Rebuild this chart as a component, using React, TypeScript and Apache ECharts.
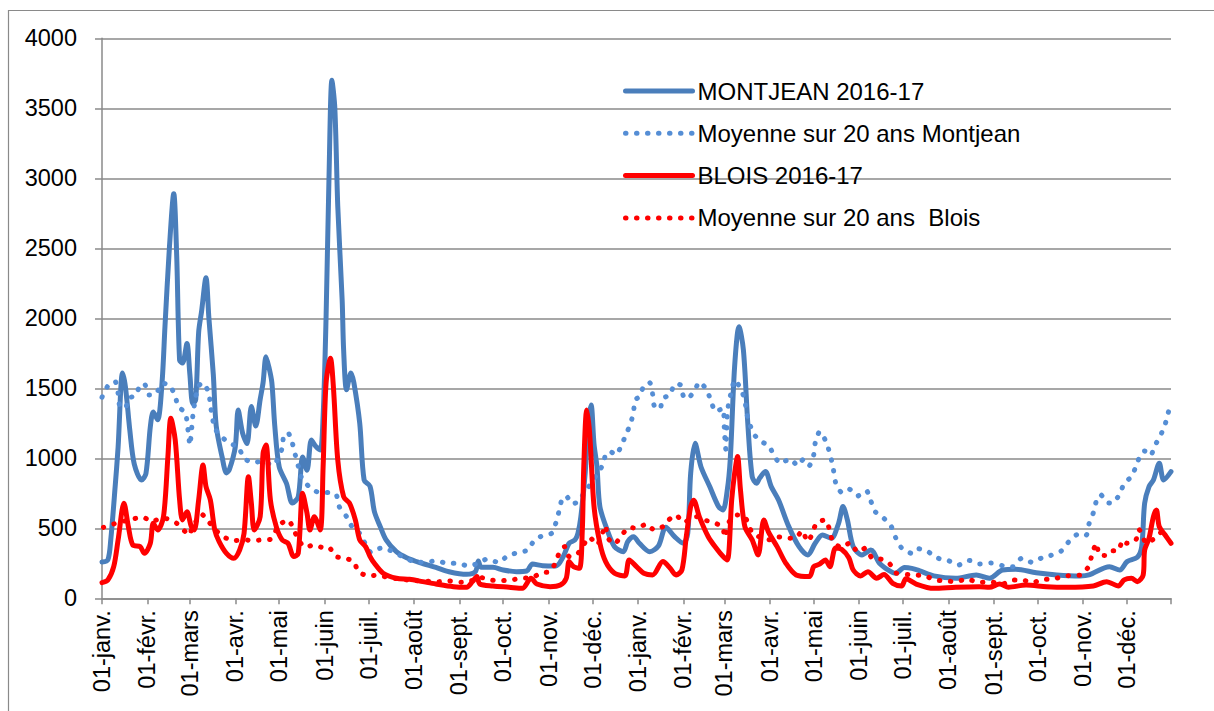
import React, { useEffect, useRef } from "react";
import * as echarts from "echarts";

// Débits journaliers (m3/s), [jour depuis le 01-janv.-2016, valeur]
const montjean: [number, number][] = [
  [0,260],[4,275],[6,420],[9,800],[11,1080],[14,1610],[16,1510],[19,1200],[22,960],[27,845],[30,890],[33,1225],[35,1330],[38,1275],[41,1540],[43,1940],[46,2500],[49,2890],[51,2450],[53,1700],[55,1680],[58,1820],[60,1600],[62,1390],[64,1420],[66,1900],[68,2050],[71,2290],[73,2000],[76,1600],[78,1230],[82,1010],[85,895],[87,920],[91,1080],[93,1345],[96,1180],[99,1105],[102,1370],[105,1230],[108,1420],[110,1540],[112,1725],[114,1650],[116,1540],[118,1230],[121,940],[126,820],[130,680],[134,725],[137,1010],[140,915],[143,1130],[146,1085],[149,1060],[151,1300],[153,2000],[155,3000],[157,3700],[159,3500],[161,2800],[164,2130],[165,1775],[167,1490],[170,1610],[172,1540],[176,1250],[179,845],[183,800],[186,620],[190,512],[194,417],[201,333],[208,290],[217,255],[228,221],[237,190],[249,171],[255,190],[257,267],[259,221],[267,221],[274,202],[283,190],[290,195],[294,245],[301,233],[310,231],[315,298],[319,393],[323,417],[325,464],[327,583],[330,900],[332,1250],[334,1380],[336,1100],[338,940],[340,655],[345,488],[350,369],[356,333],[359,405],[363,440],[367,393],[374,333],[380,374],[385,507],[391,440],[397,393],[400,464],[402,893],[405,1107],[409,940],[415,798],[421,655],[424,631],[427,774],[429,988],[432,1655],[435,1940],[438,1774],[441,1250],[444,869],[447,821],[449,857],[453,905],[457,798],[462,702],[469,512],[476,369],[482,310],[487,393],[492,452],[498,429],[503,536],[506,655],[509,560],[513,369],[519,310],[525,345],[531,250],[537,202],[542,179],[548,220],[553,214],[558,198],[568,160],[583,143],[597,167],[606,143],[615,202],[624,207],[638,183],[652,167],[668,160],[674,167],[688,226],[695,202],[700,262],[707,293],[710,369],[712,679],[715,798],[718,845],[722,964],[725,845],[730,905]
];

const montjeanMoyenne: [number, number][] = [
  [0,1436],[4,1517],[9,1548],[11,1464],[12,1381],[16,1357],[18,1429],[23,1448],[26,1524],[29,1531],[32,1452],[37,1460],[41,1536],[46,1524],[50,1445],[52,1369],[57,1326],[58,1262],[59,1179],[60,1095],[62,1300],[64,1440],[66,1517],[69,1540],[73,1464],[74,1381],[77,1214],[82,1150],[88,1102],[93,1083],[97,1000],[103,969],[108,976],[117,952],[123,1071],[124,1155],[127,1183],[130,1107],[132,1024],[134,945],[136,869],[137,845],[144,774],[149,755],[155,755],[160,738],[162,655],[167,583],[172,488],[176,464],[184,326],[190,357],[196,345],[201,321],[207,286],[214,260],[220,257],[228,267],[236,250],[243,250],[250,231],[257,250],[263,281],[271,255],[277,305],[284,326],[291,345],[295,412],[301,448],[307,464],[310,540],[312,619],[314,702],[317,731],[321,674],[325,690],[342,952],[344,1031],[347,1048],[351,1024],[355,1100],[358,1174],[361,1250],[363,1333],[364,1417],[367,1440],[370,1517],[374,1540],[376,1460],[377,1379],[381,1352],[383,1429],[388,1452],[391,1531],[395,1524],[397,1445],[400,1426],[405,1493],[408,1545],[413,1488],[416,1405],[419,1333],[424,1357],[425,1200],[426,1064],[427,1310],[428,1398],[430,1483],[432,1560],[436,1500],[439,1417],[440,1333],[442,1255],[445,1174],[450,1119],[455,1095],[458,1040],[463,964],[470,995],[475,948],[479,993],[483,948],[486,1024],[487,1107],[490,1190],[493,1150],[496,1071],[499,950],[501,826],[505,757],[510,781],[516,731],[522,769],[525,695],[528,619],[534,571],[539,512],[542,433],[546,360],[553,321],[557,355],[564,333],[571,286],[578,269],[585,238],[592,271],[599,245],[607,252],[615,233],[622,226],[628,286],[635,257],[642,290],[648,307],[655,338],[660,402],[666,455],[672,450],[674,531],[677,612],[679,693],[682,740],[686,686],[690,679],[695,745],[698,821],[703,869],[706,940],[709,1021],[712,1052],[716,1019],[719,1090],[723,1167],[726,1243],[728,1321],[730,1405]
];

const blois: [number, number][] = [
  [0,112],[4,131],[8,226],[11,417],[15,679],[18,512],[21,381],[26,369],[29,321],[33,393],[35,536],[38,488],[42,583],[45,1012],[47,1286],[50,1131],[53,702],[55,560],[58,619],[61,512],[63,488],[66,702],[69,952],[71,798],[74,702],[77,488],[80,405],[85,321],[90,286],[94,345],[97,464],[100,869],[102,679],[104,488],[108,583],[110,1036],[112,1095],[115,702],[119,512],[123,417],[127,393],[131,298],[134,321],[137,750],[140,607],[142,488],[145,583],[149,488],[151,940],[153,1536],[156,1714],[158,1512],[161,988],[165,726],[169,679],[173,560],[176,417],[180,369],[183,300],[186,250],[192,179],[201,143],[210,136],[219,119],[228,102],[240,83],[249,79],[253,119],[256,155],[258,102],[267,88],[278,79],[287,71],[293,143],[297,102],[306,83],[313,95],[317,143],[319,262],[322,226],[326,214],[328,488],[329,940],[331,1345],[333,1179],[336,655],[340,393],[344,260],[350,179],[357,160],[360,274],[365,226],[370,179],[376,167],[383,262],[388,214],[392,167],[396,202],[399,440],[402,655],[404,700],[408,580],[414,440],[420,350],[424,300],[427,274],[430,702],[432,893],[434,1012],[436,774],[439,512],[444,417],[448,310],[452,560],[455,476],[461,369],[467,250],[474,167],[483,155],[486,226],[490,244],[494,274],[497,226],[501,360],[505,350],[510,290],[513,202],[518,160],[523,190],[529,143],[534,170],[540,107],[546,88],[549,140],[556,102],[568,71],[583,79],[599,83],[606,79],[613,102],[619,79],[631,95],[645,83],[659,79],[677,88],[686,119],[694,88],[698,131],[703,143],[707,119],[711,167],[712,345],[715,429],[718,583],[720,631],[722,512],[726,452],[730,393]
];

const bloisMoyenne: [number, number][] = [
  [1,507],[8,531],[22,569],[28,579],[34,548],[40,569],[44,569],[51,536],[60,452],[61,488],[68,602],[73,545],[78,483],[84,433],[91,412],[96,421],[102,412],[109,417],[115,421],[121,524],[127,560],[131,493],[134,417],[139,364],[145,383],[150,364],[155,362],[160,298],[166,286],[172,262],[175,190],[182,160],[188,165],[195,150],[205,135],[215,125],[230,119],[237,124],[245,115],[251,120],[258,150],[265,131],[273,126],[279,131],[287,143],[294,148],[300,183],[306,190],[310,262],[313,345],[316,369],[319,298],[325,321],[333,436],[338,381],[344,519],[345,436],[350,388],[355,452],[360,507],[365,500],[372,531],[377,488],[383,512],[387,560],[392,595],[397,540],[400,555],[406,583],[411,560],[418,540],[424,507],[425,436],[429,565],[434,595],[439,583],[444,469],[451,429],[457,417],[461,440],[468,429],[474,431],[478,483],[482,405],[485,460],[488,540],[494,560],[497,483],[499,405],[505,364],[511,398],[516,331],[521,357],[526,286],[532,279],[538,245],[542,181],[554,167],[562,160],[569,131],[576,124],[583,119],[591,138],[598,114],[607,117],[615,102],[622,131],[628,131],[636,112],[642,136],[649,136],[657,160],[663,162],[669,169],[674,231],[676,312],[679,393],[681,310],[685,305],[689,340],[694,340],[697,417],[700,393],[706,417],[708,493],[710,464],[713,393],[719,429],[723,470],[728,493]
];

const seriesNames = [
  "MONTJEAN 2016-17",
  "Moyenne sur 20 ans Montjean",
  "BLOIS 2016-17",
  "Moyenne sur 20 ans  Blois",
];

const moisLabels = ["janv.", "févr.", "mars", "avr.", "mai", "juin", "juil.", "août", "sept.", "oct.", "nov.", "déc."];

const yTicks = { min: 0, max: 4000, interval: 500 };

// Axe des dates : 01-janv.-2016 .. 31-déc.-2017
const days: string[] = [];
{
  const start = Date.UTC(2016, 0, 1);
  const end = Date.UTC(2018, 0, 1);
  for (let t = start; t < end; t += 86400000) {
    days.push(new Date(t).toISOString().slice(0, 10));
  }
}

const FONT = "'Liberation Sans', Arial, sans-serif";
const BLUE = "#4a7ebb";
const BLUE_DOT = "#558ed5";
const RED = "#ff0000";
const GRID = "#8a8a8a";

export default function App() {
  const ref = useRef<HTMLDivElement>(null);
  useEffect(() => {
    if (!ref.current) return;
    const chart = echarts.init(ref.current, undefined, { renderer: "svg" });
    const dotted = { type: [0.5, 10.5] as any, cap: "round" as any };
    const hideSymbol = { opacity: 0 };
    chart.setOption({
      animation: false,
      backgroundColor: "#ffffff",
      textStyle: { fontFamily: FONT, color: "#000" },
      grid: { left: 102, right: 43, top: 38.3, bottom: 112.7, containLabel: false },
      graphic: [
        {
          type: "rect",
          shape: { x: 8.5, y: 10.5, width: 1400, height: 900 },
          style: { fill: "none", stroke: GRID, lineWidth: 1.2 },
          silent: true,
          z: -1,
        },
      ],
      legend: {
        orient: "vertical",
        left: 618,
        top: 72,
        itemWidth: 67,
        itemHeight: 14,
        itemGap: 14.3,
        itemStyle: hideSymbol,
        textStyle: { fontFamily: FONT, fontSize: 24, color: "#000", lineHeight: 28 },
        data: [
          { name: seriesNames[0], itemStyle: hideSymbol, lineStyle: { color: BLUE, width: 5, type: "solid", cap: "round" } },
          { name: seriesNames[1], itemStyle: hideSymbol, lineStyle: { color: BLUE_DOT, width: 5, ...dotted } },
          { name: seriesNames[2], itemStyle: hideSymbol, lineStyle: { color: RED, width: 5, type: "solid", cap: "round" } },
          { name: seriesNames[3], itemStyle: hideSymbol, lineStyle: { color: RED, width: 5, ...dotted } },
        ],
      },
      xAxis: {
        type: "category",
        data: days,
        boundaryGap: false,
        axisLine: { lineStyle: { color: GRID, width: 1.5 } },
        axisTick: {
          show: true,
          length: 6,
          lineStyle: { color: GRID, width: 1.5 },
          interval: (i: number, v: string) => v.endsWith("-01") || i === days.length - 1,
        },
        axisLabel: {
          rotate: 90,
          margin: 12,
          fontSize: 23.5,
          fontFamily: FONT,
          color: "#000",
          interval: (i: number, v: string) => v.endsWith("-01"),
          formatter: (v: string) => "01-" + moisLabels[parseInt(v.slice(5, 7), 10) - 1],
        },
        splitLine: { show: false },
      },
      yAxis: {
        type: "value",
        min: yTicks.min,
        max: yTicks.max,
        interval: yTicks.interval,
        axisLine: { show: true, lineStyle: { color: GRID, width: 1.5 } },
        axisTick: { show: true, length: 7, lineStyle: { color: GRID, width: 1.5 } },
        axisLabel: { margin: 25, fontSize: 23.5, fontFamily: FONT, color: "#000", formatter: (v: number) => String(v) },
        splitLine: { lineStyle: { color: GRID, width: 1.5 } },
      },
      series: [
        {
          name: seriesNames[0], type: "line", data: montjean, symbol: "none", smooth: 0.3,
          lineStyle: { color: BLUE, width: 5, cap: "round", join: "round" }, itemStyle: { color: BLUE },
        },
        {
          name: seriesNames[1], type: "line", data: montjeanMoyenne, symbol: "none", smooth: 0.2,
          lineStyle: { color: BLUE_DOT, width: 5, ...dotted }, itemStyle: { color: BLUE_DOT },
        },
        {
          name: seriesNames[2], type: "line", data: blois, symbol: "none", smooth: 0.3,
          lineStyle: { color: RED, width: 5, cap: "round", join: "round" }, itemStyle: { color: RED },
        },
        {
          name: seriesNames[3], type: "line", data: bloisMoyenne, symbol: "none", smooth: 0.2,
          lineStyle: { color: RED, width: 5, ...dotted }, itemStyle: { color: RED },
        },
      ],
    });
    return () => chart.dispose();
  }, []);
  return (
    <div
      ref={ref}
      style={{ position: "fixed", left: 0, top: 0, width: 1214, height: 711, background: "#fff" }}
    />
  );
}
